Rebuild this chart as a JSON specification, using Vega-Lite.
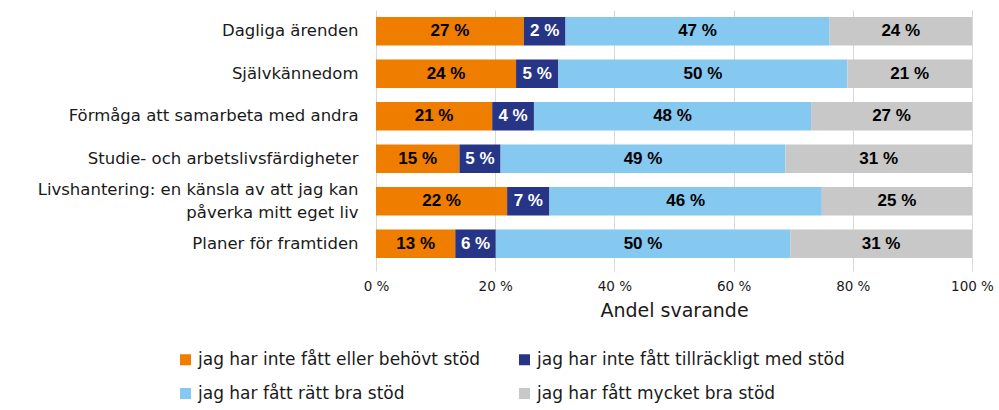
{
  "$schema": "https://vega.github.io/schema/vega-lite/v6.json",
  "autosize": {"type": "none"},
  "padding": {"left": 376, "top": 10, "right": 27, "bottom": 145},
  "width": 596,
  "height": 255,
  "background": "white",
  "config": {
    "view": {"stroke": null},
    "font": "DejaVu Sans"
  },
  "data": {
    "values": [
      {"cat": "Dagliga ärenden", "series": "jag har inte fått eller behövt stöd", "ord": 1, "share": 24.8, "label": "27 %"},
      {"cat": "Dagliga ärenden", "series": "jag har inte fått tillräckligt med stöd", "ord": 2, "share": 7.0, "label": "2 %"},
      {"cat": "Dagliga ärenden", "series": "jag har fått rätt bra stöd", "ord": 3, "share": 44.3, "label": "47 %"},
      {"cat": "Dagliga ärenden", "series": "jag har fått mycket bra stöd", "ord": 4, "share": 23.9, "label": "24 %"},
      {"cat": "Självkännedom", "series": "jag har inte fått eller behövt stöd", "ord": 1, "share": 23.5, "label": "24 %"},
      {"cat": "Självkännedom", "series": "jag har inte fått tillräckligt med stöd", "ord": 2, "share": 7.1, "label": "5 %"},
      {"cat": "Självkännedom", "series": "jag har fått rätt bra stöd", "ord": 3, "share": 48.5, "label": "50 %"},
      {"cat": "Självkännedom", "series": "jag har fått mycket bra stöd", "ord": 4, "share": 20.9, "label": "21 %"},
      {"cat": "Förmåga att samarbeta med andra", "series": "jag har inte fått eller behövt stöd", "ord": 1, "share": 19.5, "label": "21 %"},
      {"cat": "Förmåga att samarbeta med andra", "series": "jag har inte fått tillräckligt med stöd", "ord": 2, "share": 7.0, "label": "4 %"},
      {"cat": "Förmåga att samarbeta med andra", "series": "jag har fått rätt bra stöd", "ord": 3, "share": 46.5, "label": "48 %"},
      {"cat": "Förmåga att samarbeta med andra", "series": "jag har fått mycket bra stöd", "ord": 4, "share": 27.0, "label": "27 %"},
      {"cat": "Studie- och arbetslivsfärdigheter", "series": "jag har inte fått eller behövt stöd", "ord": 1, "share": 14.0, "label": "15 %"},
      {"cat": "Studie- och arbetslivsfärdigheter", "series": "jag har inte fått tillräckligt med stöd", "ord": 2, "share": 6.9, "label": "5 %"},
      {"cat": "Studie- och arbetslivsfärdigheter", "series": "jag har fått rätt bra stöd", "ord": 3, "share": 47.8, "label": "49 %"},
      {"cat": "Studie- och arbetslivsfärdigheter", "series": "jag har fått mycket bra stöd", "ord": 4, "share": 31.3, "label": "31 %"},
      {"cat": "Livshantering: en känsla av att jag kan|påverka mitt eget liv", "series": "jag har inte fått eller behövt stöd", "ord": 1, "share": 22.0, "label": "22 %"},
      {"cat": "Livshantering: en känsla av att jag kan|påverka mitt eget liv", "series": "jag har inte fått tillräckligt med stöd", "ord": 2, "share": 7.1, "label": "7 %"},
      {"cat": "Livshantering: en känsla av att jag kan|påverka mitt eget liv", "series": "jag har fått rätt bra stöd", "ord": 3, "share": 45.7, "label": "46 %"},
      {"cat": "Livshantering: en känsla av att jag kan|påverka mitt eget liv", "series": "jag har fått mycket bra stöd", "ord": 4, "share": 25.2, "label": "25 %"},
      {"cat": "Planer för framtiden", "series": "jag har inte fått eller behövt stöd", "ord": 1, "share": 13.3, "label": "13 %"},
      {"cat": "Planer för framtiden", "series": "jag har inte fått tillräckligt med stöd", "ord": 2, "share": 6.8, "label": "6 %"},
      {"cat": "Planer för framtiden", "series": "jag har fått rätt bra stöd", "ord": 3, "share": 49.4, "label": "50 %"},
      {"cat": "Planer för framtiden", "series": "jag har fått mycket bra stöd", "ord": 4, "share": 30.5, "label": "31 %"}
    ]
  },
  "encoding": {
    "y": {
      "field": "cat",
      "type": "nominal",
      "sort": null,
      "scale": {"paddingInner": 0.334, "paddingOuter": 0.167},
      "axis": {
        "title": null,
        "domain": false,
        "ticks": false,
        "labelExpr": "split(datum.value, '|')",
        "labelFont": "DejaVu Sans",
        "labelFontSize": 16.5,
        "labelColor": "#1a1a1a",
        "labelPadding": 18,
        "labelLineHeight": 22.5,
        "labelOffset": {"condition": {"test": "indexof(datum.value, '|') >= 0", "value": -11}, "value": 0},
        "labelLimit": 400
      }
    }
  },
  "layer": [
    {
      "mark": {"type": "bar"},
      "encoding": {
        "x": {
          "field": "share",
          "type": "quantitative",
          "stack": "zero",
          "scale": {"domain": [0, 100], "nice": false},
          "axis": {
            "values": [0, 20, 40, 60, 80, 100],
            "labelExpr": "datum.value + ' %'",
            "labelFlush": false,
            "title": "Andel svarande",
            "domain": false,
            "grid": true,
            "gridColor": "#d9d9d9",
            "tickColor": "#d9d9d9",
            "tickSize": 6,
            "labelFont": "DejaVu Sans",
            "labelFontSize": 13.5,
            "labelColor": "#1a1a1a",
            "labelPadding": 8,
            "titleFont": "DejaVu Sans",
            "titleFontSize": 19,
            "titleFontWeight": "normal",
            "titleColor": "#1a1a1a",
            "titlePadding": 9
          }
        },
        "color": {
          "field": "series",
          "type": "nominal",
          "scale": {
            "domain": ["jag har inte fått eller behövt stöd", "jag har inte fått tillräckligt med stöd", "jag har fått rätt bra stöd", "jag har fått mycket bra stöd"],
            "range": ["#ee7d00", "#263586", "#85c8f0", "#c8c8c8"]
          },
          "legend": {
            "title": null,
            "orient": "none",
            "legendX": -199,
            "legendY": 341,
            "columns": 2,
            "direction": "horizontal",
            "symbolType": "square",
            "symbolSize": 121,
            "symbolStrokeWidth": 0,
            "labelFont": "DejaVu Sans",
            "labelFontSize": 17,
            "labelColor": "#1a1a1a",
            "labelOffset": 4,
            "labelLimit": 400,
            "columnPadding": 35,
            "rowPadding": 16,
            "padding": 0
          }
        },
        "order": {"field": "ord", "type": "quantitative"}
      }
    },
    {
      "mark": {"type": "text", "font": "Liberation Sans", "fontWeight": "bold", "fontSize": 17, "baseline": "middle", "align": "center"},
      "encoding": {
        "x": {"field": "share", "type": "quantitative", "stack": "zero", "bandPosition": 0.5},
        "detail": {"field": "series"},
        "order": {"field": "ord", "type": "quantitative"},
        "text": {"field": "label"},
        "color": {
          "condition": {"test": "datum.ord === 2", "value": "white"},
          "value": "black"
        }
      }
    }
  ]
}
